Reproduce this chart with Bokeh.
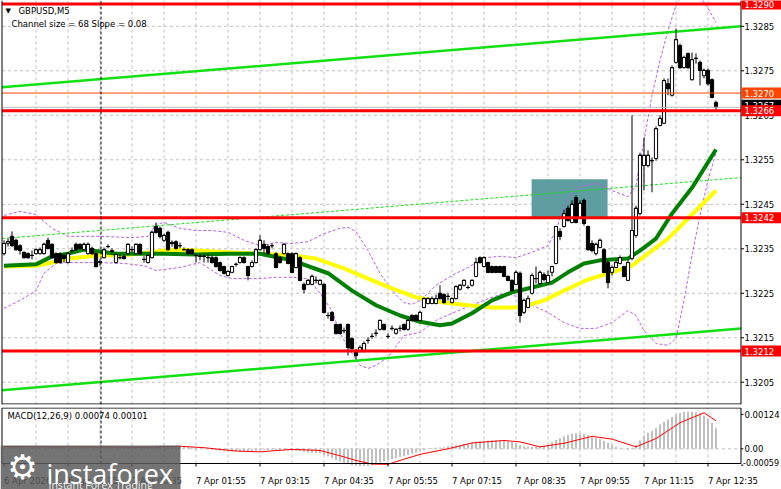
import numpy as np
from bokeh.plotting import figure
from bokeh.layouts import column
from bokeh.models import Range1d
from bokeh.core.properties import value
from bokeh.embed import file_html
from bokeh.resources import INLINE

FONT = "DejaVu Sans"

# ---------------- data ----------------
symbol = "GBPUSD,M5"
channel_text = "Channel size = 68 Slope = 0.08"
macd_text = "MACD(12,26,9) 0.00074 0.00101"

time_labels = ["6 Apr 2026", "6 Apr 23:15", "7 Apr 00:35", "7 Apr 01:55", "7 Apr 03:15",
               "7 Apr 04:35", "7 Apr 05:55", "7 Apr 07:15", "7 Apr 08:35", "7 Apr 09:55",
               "7 Apr 11:15", "7 Apr 12:35"]
time_label_bars = [0, 16, 32, 48, 64, 80, 96, 112, 128, 144, 160, 176]
day_start_bar = 24.25

open_ = [1.32339, 1.32362, 1.32378, 1.32369, 1.32357, 1.32342, 1.32339, 1.32335, 1.32339, 1.32339,
         1.32339, 1.32369, 1.32360, 1.32339, 1.32339, 1.32335, 1.32319, 1.32346, 1.32360, 1.32360,
         1.32348, 1.32339, 1.32351, 1.32339, 1.32319, 1.32330, 1.32355, 1.32346, 1.32319, 1.32330,
         1.32333, 1.32339, 1.32348, 1.32339, 1.32360, 1.32326, 1.32319, 1.32330, 1.32400, 1.32396,
         1.32369, 1.32387, 1.32364, 1.32366, 1.32357, 1.32348, 1.32348, 1.32348, 1.32335, 1.32333,
         1.32333, 1.32330, 1.32330, 1.32330, 1.32319, 1.32310, 1.32290, 1.32297, 1.32315, 1.32319,
         1.32330, 1.32310, 1.32310, 1.32319, 1.32348, 1.32360, 1.32355, 1.32357, 1.32339, 1.32330,
         1.32339, 1.32339, 1.32339, 1.32308, 1.32330, 1.32270, 1.32270, 1.32270, 1.32279, 1.32270,
         1.32270, 1.32200, 1.32207, 1.32180, 1.32180, 1.32166, 1.32180, 1.32148, 1.32119, 1.32119,
         1.32119, 1.32144, 1.32153, 1.32160, 1.32169, 1.32180, 1.32153, 1.32171, 1.32160, 1.32171,
         1.32180, 1.32169, 1.32200, 1.32200, 1.32189, 1.32218, 1.32227, 1.32227, 1.32227, 1.32250,
         1.32247, 1.32243, 1.32229, 1.32238, 1.32259, 1.32268, 1.32263, 1.32268, 1.32288, 1.32330,
         1.32310, 1.32319, 1.32310, 1.32310, 1.32310, 1.32310, 1.32288, 1.32279, 1.32270, 1.32295,
         1.32207, 1.32218, 1.32250, 1.32283, 1.32272, 1.32292, 1.32274, 1.32297, 1.32317, 1.32389,
         1.32400, 1.32441, 1.32409, 1.32465, 1.32420, 1.32459, 1.32400, 1.32362, 1.32339, 1.32353,
         1.32348, 1.32319, 1.32297, 1.32308, 1.32317, 1.32310, 1.32279, 1.32328, 1.32380, 1.32429,
         1.32537, 1.32537, 1.32548, 1.32553, 1.32627, 1.32632, 1.32721, 1.32695, 1.32769, 1.32807,
         1.32757, 1.32789, 1.32730, 1.32778, 1.32769, 1.32739, 1.32751, 1.32730, 1.32679]

close = [1.32362, 1.32366, 1.32357, 1.32348, 1.32346, 1.32330, 1.32330, 1.32335, 1.32348, 1.32348,
         1.32360, 1.32351, 1.32330, 1.32319, 1.32319, 1.32328, 1.32339, 1.32346, 1.32348, 1.32351,
         1.32360, 1.32360, 1.32339, 1.32310, 1.32321, 1.32348, 1.32355, 1.32344, 1.32337, 1.32330,
         1.32328, 1.32360, 1.32348, 1.32360, 1.32339, 1.32326, 1.32335, 1.32387, 1.32387, 1.32378,
         1.32380, 1.32348, 1.32362, 1.32351, 1.32357, 1.32348, 1.32339, 1.32339, 1.32335, 1.32333,
         1.32333, 1.32330, 1.32319, 1.32310, 1.32301, 1.32295, 1.32299, 1.32310, 1.32315, 1.32330,
         1.32319, 1.32290, 1.32319, 1.32348, 1.32369, 1.32351, 1.32339, 1.32357, 1.32308, 1.32319,
         1.32360, 1.32317, 1.32297, 1.32339, 1.32279, 1.32259, 1.32279, 1.32288, 1.32279, 1.32279,
         1.32207, 1.32200, 1.32189, 1.32160, 1.32160, 1.32166, 1.32128, 1.32126, 1.32110, 1.32128,
         1.32137, 1.32144, 1.32153, 1.32160, 1.32189, 1.32169, 1.32153, 1.32171, 1.32169, 1.32171,
         1.32169, 1.32189, 1.32189, 1.32189, 1.32207, 1.32238, 1.32238, 1.32238, 1.32238, 1.32238,
         1.32229, 1.32243, 1.32238, 1.32265, 1.32268, 1.32279, 1.32263, 1.32279, 1.32319, 1.32319,
         1.32330, 1.32297, 1.32297, 1.32297, 1.32297, 1.32288, 1.32279, 1.32256, 1.32297, 1.32200,
         1.32234, 1.32238, 1.32290, 1.32283, 1.32297, 1.32281, 1.32290, 1.32310, 1.32400, 1.32378,
         1.32429, 1.32414, 1.32450, 1.32409, 1.32452, 1.32407, 1.32348, 1.32346, 1.32360, 1.32369,
         1.32297, 1.32274, 1.32308, 1.32319, 1.32330, 1.32288, 1.32319, 1.32391, 1.32441, 1.32560,
         1.32560, 1.32560, 1.32548, 1.32620, 1.32643, 1.32728, 1.32710, 1.32757, 1.32820, 1.32757,
         1.32780, 1.32757, 1.32775, 1.32778, 1.32751, 1.32751, 1.32721, 1.32690, 1.32668]

high = [1.32369, 1.32373, 1.32389, 1.32373, 1.32360, 1.32344, 1.32342, 1.32346, 1.32351, 1.32353,
        1.32364, 1.32375, 1.32362, 1.32342, 1.32342, 1.32339, 1.32342, 1.32353, 1.32364, 1.32362,
        1.32364, 1.32364, 1.32355, 1.32342, 1.32326, 1.32353, 1.32360, 1.32351, 1.32339, 1.32337,
        1.32337, 1.32362, 1.32355, 1.32362, 1.32362, 1.32333, 1.32337, 1.32391, 1.32409, 1.32400,
        1.32384, 1.32391, 1.32369, 1.32369, 1.32364, 1.32353, 1.32351, 1.32351, 1.32339, 1.32339,
        1.32339, 1.32339, 1.32335, 1.32333, 1.32321, 1.32312, 1.32301, 1.32312, 1.32319, 1.32333,
        1.32333, 1.32312, 1.32324, 1.32351, 1.32380, 1.32369, 1.32360, 1.32362, 1.32342, 1.32333,
        1.32362, 1.32342, 1.32342, 1.32342, 1.32333, 1.32274, 1.32281, 1.32292, 1.32288, 1.32281,
        1.32272, 1.32207, 1.32209, 1.32182, 1.32182, 1.32173, 1.32182, 1.32151, 1.32124, 1.32133,
        1.32142, 1.32151, 1.32160, 1.32169, 1.32191, 1.32182, 1.32160, 1.32178, 1.32171, 1.32178,
        1.32182, 1.32191, 1.32203, 1.32203, 1.32211, 1.32241, 1.32241, 1.32243, 1.32247, 1.32268,
        1.32250, 1.32250, 1.32241, 1.32268, 1.32270, 1.32281, 1.32268, 1.32281, 1.32330, 1.32333,
        1.32333, 1.32321, 1.32312, 1.32312, 1.32312, 1.32312, 1.32290, 1.32281, 1.32301, 1.32299,
        1.32238, 1.32245, 1.32295, 1.32310, 1.32301, 1.32297, 1.32301, 1.32312, 1.32402, 1.32396,
        1.32438, 1.32447, 1.32459, 1.32470, 1.32459, 1.32463, 1.32402, 1.32369, 1.32364, 1.32373,
        1.32351, 1.32324, 1.32312, 1.32324, 1.32335, 1.32312, 1.32324, 1.32650, 1.32447, 1.32566,
        1.32600, 1.32571, 1.32555, 1.32625, 1.32650, 1.32733, 1.32733, 1.32762, 1.32845, 1.32811,
        1.32784, 1.32791, 1.32791, 1.32789, 1.32773, 1.32755, 1.32755, 1.32733, 1.32683]

low = [1.32335, 1.32355, 1.32355, 1.32346, 1.32337, 1.32328, 1.32328, 1.32326, 1.32337, 1.32337,
       1.32337, 1.32348, 1.32328, 1.32317, 1.32317, 1.32319, 1.32317, 1.32339, 1.32346, 1.32348,
       1.32346, 1.32337, 1.32337, 1.32308, 1.32312, 1.32328, 1.32351, 1.32339, 1.32317, 1.32326,
       1.32326, 1.32337, 1.32342, 1.32337, 1.32337, 1.32319, 1.32317, 1.32328, 1.32384, 1.32373,
       1.32366, 1.32346, 1.32355, 1.32348, 1.32351, 1.32346, 1.32337, 1.32337, 1.32319, 1.32324,
       1.32319, 1.32319, 1.32317, 1.32308, 1.32299, 1.32292, 1.32288, 1.32295, 1.32310, 1.32317,
       1.32317, 1.32279, 1.32308, 1.32317, 1.32346, 1.32339, 1.32337, 1.32351, 1.32306, 1.32317,
       1.32337, 1.32315, 1.32295, 1.32306, 1.32277, 1.32250, 1.32268, 1.32268, 1.32272, 1.32268,
       1.32205, 1.32193, 1.32187, 1.32157, 1.32157, 1.32160, 1.32110, 1.32119, 1.32101, 1.32117,
       1.32117, 1.32137, 1.32148, 1.32153, 1.32166, 1.32166, 1.32148, 1.32166, 1.32157, 1.32164,
       1.32166, 1.32166, 1.32187, 1.32187, 1.32187, 1.32216, 1.32225, 1.32225, 1.32225, 1.32236,
       1.32227, 1.32234, 1.32227, 1.32236, 1.32256, 1.32265, 1.32259, 1.32265, 1.32286, 1.32317,
       1.32308, 1.32295, 1.32295, 1.32295, 1.32295, 1.32286, 1.32277, 1.32254, 1.32268, 1.32184,
       1.32203, 1.32216, 1.32247, 1.32272, 1.32270, 1.32277, 1.32272, 1.32288, 1.32315, 1.32369,
       1.32398, 1.32411, 1.32407, 1.32407, 1.32418, 1.32402, 1.32346, 1.32342, 1.32335, 1.32351,
       1.32295, 1.32261, 1.32290, 1.32306, 1.32315, 1.32286, 1.32277, 1.32324, 1.32375, 1.32425,
       1.32481, 1.32533, 1.32477, 1.32548, 1.32625, 1.32630, 1.32695, 1.32692, 1.32766, 1.32755,
       1.32755, 1.32755, 1.32728, 1.32766, 1.32717, 1.32733, 1.32717, 1.32688, 1.32661]

ma_green_bars = [0, 8, 12, 16, 20, 24, 28, 32, 40, 48, 56, 64, 72, 81, 87, 93, 99, 104, 109, 112,
                 117, 122, 127, 132, 137, 141, 145, 149, 156, 159, 163, 167, 172, 178]
ma_green = [1.32312, 1.32315, 1.32333, 1.32339, 1.32348, 1.32344, 1.32339, 1.32339, 1.32339, 1.32337,
            1.32339, 1.32339, 1.32324, 1.32295, 1.32256, 1.32223, 1.32200, 1.32186, 1.32178, 1.32182,
            1.32205, 1.32234, 1.32252, 1.32263, 1.32274, 1.32297, 1.32317, 1.32324, 1.32328, 1.32346,
            1.32373, 1.32429, 1.32487, 1.32573]

ma_yellow_bars = [0, 8, 12, 16, 24, 32, 40, 44, 48, 56, 64, 72, 78, 85, 91, 97, 103, 110, 116, 122,
                  128, 131, 135, 140, 146, 152, 157, 162, 166, 171, 178]
ma_yellow = [1.32310, 1.32312, 1.32319, 1.32328, 1.32335, 1.32337, 1.32346, 1.32348, 1.32346, 1.32342,
             1.32339, 1.32335, 1.32328, 1.32306, 1.32283, 1.32261, 1.32241, 1.32229, 1.32223, 1.32218,
             1.32218, 1.32223, 1.32234, 1.32256, 1.32281, 1.32297, 1.32312, 1.32346, 1.32373, 1.32418,
             1.32481]

bb_upper_bars = [0, 4, 8, 12, 16, 24, 32, 36, 38, 40, 44, 48, 52, 56, 60, 64, 68, 72, 76, 80,
                 84, 86, 88, 91, 94, 97, 100, 102, 104, 106, 108, 112, 116, 120, 124, 128, 132, 136, 138, 140,
                 142, 144, 148, 150, 152, 156, 158, 160, 162, 164, 166, 168, 170, 172, 174, 176, 178]
bb_upper = [1.32425, 1.32434, 1.32427, 1.32396, 1.32378, 1.32378, 1.32375, 1.32378, 1.32405, 1.32409,
            1.32396, 1.32391, 1.32391, 1.32387, 1.32369, 1.32357, 1.32364, 1.32362, 1.32366, 1.32384,
            1.32396, 1.32398, 1.32389, 1.32346, 1.32295, 1.32256, 1.32229, 1.32225, 1.32234, 1.32250,
            1.32268, 1.32290, 1.32308, 1.32330, 1.32333, 1.32330, 1.32342, 1.32357, 1.32391, 1.32447,
            1.32477, 1.32490, 1.32497, 1.32490, 1.32481, 1.32467, 1.32492, 1.32593, 1.32695, 1.32773,
            1.32841, 1.32897, 1.32926, 1.32935, 1.32919, 1.32890, 1.32859]

bb_lower_bars = [0, 4, 8, 10, 13, 16, 24, 30, 35, 38, 44, 49, 54, 57, 64, 68, 72, 76, 79, 82,
                 84, 87, 89, 91, 93, 96, 100, 104, 108, 112, 118, 122, 126, 129, 132, 136, 140, 144, 148, 152,
                 156, 158, 160, 163, 166, 168, 170, 172, 174, 176, 178]
bb_lower = [1.32216, 1.32234, 1.32256, 1.32295, 1.32317, 1.32319, 1.32319, 1.32317, 1.32312, 1.32301,
            1.32308, 1.32319, 1.32290, 1.32283, 1.32283, 1.32286, 1.32286, 1.32283, 1.32250, 1.32211,
            1.32160, 1.32115, 1.32088, 1.32081, 1.32088, 1.32106, 1.32155, 1.32162, 1.32189, 1.32205,
            1.32227, 1.32241, 1.32252, 1.32238, 1.32223, 1.32207, 1.32184, 1.32171, 1.32171, 1.32184,
            1.32211, 1.32200, 1.32166, 1.32137, 1.32133, 1.32148, 1.32234, 1.32335, 1.32425, 1.32504,
            1.32566]

channel_bars = [-0.5, 184.25]
channel_top = [1.32713, 1.32850]
channel_mid = [1.32373, 1.32510]
channel_bot = [1.32032, 1.32171]

level_prices = [1.3290, 1.3266, 1.3242, 1.3212]
level_texts = ["1.3290", "1.3266", "1.3242", "1.3212"]
target_price = 1.3270
target_text = "1.3270"

zone_bars = [131.9, 150.9]
zone_prices = [1.32420, 1.32506]

price_ticks = [1.3205, 1.3215, 1.3225, 1.3235, 1.3245, 1.3255, 1.3265, 1.3275, 1.3285]
price_tick_labels = ["1.3205", "1.3215", "1.3225", "1.3235", "1.3245", "1.3255", "1.3265", "1.3275", "1.3285"]

macd_main = [0.00006, 0.00007, 0.00008, 0.00008, 0.00007, 0.00006, 0.00005, 0.00005, 0.00005, 0.00006,
             0.00006, 0.00007, 0.00007, 0.00006, 0.00005, 0.00004, 0.00003, 0.00003, 0.00004, 0.00005,
             0.00006, 0.00006, 0.00005, 0.00004, 0.00003, 0.00003, 0.00004, 0.00004, 0.00003, 0.00003,
             0.00004, 0.00005, 0.00005, 0.00006, 0.00006, 0.00005, 0.00005, 0.00007, 0.00010, 0.00012,
             0.00013, 0.00012, 0.00012, 0.00011, 0.00010, 0.00009, 0.00007, 0.00005, 0.00003, 0.00001,
             -0.00001, -0.00002, -0.00004, -0.00005, -0.00007, -0.00009, -0.00010, -0.00010, -0.00010, -0.00009,
             -0.00009, -0.00010, -0.00009, -0.00007, -0.00005, -0.00004, -0.00004, -0.00003, -0.00005, -0.00006,
             -0.00005, -0.00006, -0.00006, -0.00007, -0.00009, -0.00011, -0.00013, -0.00014, -0.00015, -0.00016,
             -0.00022, -0.00028, -0.00034, -0.00040, -0.00046, -0.00050, -0.00055, -0.00058, -0.00061, -0.00063,
             -0.00063, -0.00061, -0.00058, -0.00054, -0.00049, -0.00045, -0.00041, -0.00037, -0.00033, -0.00029,
             -0.00026, -0.00022, -0.00018, -0.00014, -0.00009, -0.00004, 0.00000, 0.00002, 0.00004, 0.00005,
             0.00006, 0.00008, 0.00010, 0.00012, 0.00015, 0.00018, 0.00020, 0.00023, 0.00026, 0.00028,
             0.00029, 0.00030, 0.00031, 0.00031, 0.00031, 0.00030, 0.00028, 0.00025, 0.00021, 0.00014,
             0.00009, 0.00007, 0.00007, 0.00008, 0.00009, 0.00011, 0.00014, 0.00024, 0.00032, 0.00038,
             0.00045, 0.00050, 0.00054, 0.00056, 0.00056, 0.00054, 0.00050, 0.00045, 0.00040, 0.00035,
             0.00029, 0.00022, 0.00014, 0.00007, 0.00002, -0.00002, -0.00003, 0.00004, 0.00014, 0.00030,
             0.00048, 0.00058, 0.00064, 0.00075, 0.00088, 0.00098, 0.00106, 0.00115, 0.00124, 0.00129,
             0.00133, 0.00134, 0.00134, 0.00132, 0.00128, 0.00120, 0.00108, 0.00093, 0.00074]

signal_bars = [0, 20, 36, 44, 50, 58, 64, 72, 79, 84, 88, 92, 96, 99, 104, 111, 117, 125, 129, 134,
               140, 147, 152, 158, 163, 169, 175, 178]
signal = [0.00008, 0.00007, 0.00006, 0.00009, 0.00004, -0.00008, -0.00011, -0.00002, -0.00006, -0.00025,
          -0.00042, -0.00055, -0.00056, -0.00042, -0.00020, 0.00000, 0.00021, 0.00030, 0.00025, 0.00007,
          0.00020, 0.00045, 0.00035, 0.00007, 0.00037, 0.00094, 0.00130, 0.00101]

macd_ticks = [0.00124, 0.0, -0.00059]
macd_tick_labels = ["0.00124", "0.00", "-0.00059"]

# ---------------- layout helpers (page pixels of the 781x489 chart) ----------------
XS, XE = -0.875, 194.375        # whole canvas width, 4 px per bar
X0, X1 = -0.5, 184.25           # left border / price-axis line
P_TOP, P_BOT = 1.32908, 1.32000 # main panel, 404 px
PPX = (P_TOP - P_BOT) / 404.0
M_TOP, M_BOX_BOT = 0.00149, -0.00053   # macd box, 56 px
MPX = (M_TOP - M_BOX_BOT) / 56.0
M_BOT = M_TOP - 82.0 * MPX

def py(y):
    return P_TOP - y * PPX

def my(y):
    return M_TOP - (y - 407.0) * MPX

def bx(x):
    return (x - 3.5) / 4.0

GRID = "#c0c0c0"
LBL_X = bx(744)
TAG_L = bx(741)
x_rng = Range1d(XS, XE)

def ptext(fig, x, y, txt, size="8.5px", color="black", align="left", font=FONT, baseline="middle", alpha=1.0):
    fig.text(x=[x], y=[y], text=[txt], text_font=value(font), text_font_size=size,
             text_color=color, text_align=align, text_baseline=baseline, text_alpha=alpha)

# ---------------- main price panel ----------------
p1 = figure(width=781, height=407, x_range=x_rng, y_range=Range1d(P_BOT, P_TOP),
            min_border_left=0, min_border_right=0, min_border_top=0, min_border_bottom=3,
            x_axis_location=None, y_axis_location=None,
            output_backend="svg", toolbar_location=None,
            background_fill_color="white", border_fill_color="white", outline_line_color=None)
p1.grid.visible = False

vgrid = [b for b in range(8, 184, 8)]
p1.segment(x0=vgrid, y0=[P_BOT] * len(vgrid), x1=vgrid, y1=[P_TOP] * len(vgrid),
           line_color=GRID, line_dash="3 3", line_width=1)
p1.segment(x0=[X0] * len(price_ticks), y0=price_ticks, x1=[X1] * len(price_ticks), y1=price_ticks,
           line_color=GRID, line_dash="3 3", line_width=1)

p1.quad(left=[zone_bars[0]], right=[zone_bars[1]], bottom=[zone_prices[0]], top=[zone_prices[1]],
        fill_color="#5f9ea0", line_color=None)

p1.line(bb_upper_bars, bb_upper, line_color="#b85ee0", line_dash="3 2", line_width=1)
p1.line(bb_lower_bars, bb_lower, line_color="#b85ee0", line_dash="3 2", line_width=1)

p1.line(channel_bars, channel_top, line_color="#11e011", line_width=2.5)
p1.line(channel_bars, channel_bot, line_color="#11e011", line_width=2.5)
p1.line(channel_bars, channel_mid, line_color="#11e011", line_width=1, line_dash="3 2")

p1.line(ma_yellow_bars, ma_yellow, line_color="#ffff00", line_width=4)
p1.line(ma_green_bars, ma_green, line_color="#008000", line_width=4)

n = len(close)
idx = np.arange(n)
o = np.array(open_)
c = np.array(close)
body_top = np.maximum(o, c)
body_bot = np.minimum(o, c)
fills = ["white" if cc >= oo else "black" for oo, cc in zip(open_, close)]
p1.segment(x0=idx, y0=low, x1=idx, y1=high, line_color="black", line_width=1)
p1.vbar(x=idx, width=0.8, top=body_top, bottom=body_bot, fill_color=fills, line_color="black", line_width=1)
p1.segment(x0=idx - 0.4, y0=c, x1=idx + 0.4, y1=c, line_color="black", line_width=1)

# horizontal levels
p1.segment(x0=[X0], y0=[close[-1]], x1=[X1], y1=[close[-1]], line_color="#c0c0c0", line_width=1)
p1.segment(x0=[X0], y0=[target_price], x1=[X1], y1=[target_price], line_color="#ff4500", line_width=1)
p1.segment(x0=[X0] * len(level_prices), y0=level_prices, x1=[X1] * len(level_prices), y1=level_prices,
           line_color="#ff0000", line_width=3)

# day separator and frame lines
p1.segment(x0=[day_start_bar], y0=[P_BOT], x1=[day_start_bar], y1=[P_TOP],
           line_color="black", line_dash="3 2", line_width=1)
p1.segment(x0=[X0, X1, X0], y0=[P_BOT, P_BOT, py(403.5)], x1=[X0, X1, X1], y1=[P_TOP, P_TOP, py(403.5)],
           line_color="black", line_width=1)

# price scale
p1.segment(x0=[X1] * len(price_ticks), y0=price_ticks, x1=[X1 + 0.75] * len(price_ticks), y1=price_ticks,
           line_color="black", line_width=1)
p1.text(x=[LBL_X] * len(price_ticks), y=price_ticks, text=price_tick_labels,
        text_font=value(FONT), text_font_size="8.5px", text_color="black",
        text_align="left", text_baseline="middle")

def tag(y, txt, bg):
    p1.quad(left=[TAG_L], right=[XE], bottom=[y - 5.5 * PPX], top=[y + 5.5 * PPX],
            fill_color=bg, line_color=None)
    ptext(p1, LBL_X, y, txt, color="white")

tag(close[-1] + 2 * PPX, "%.4f" % close[-1], "black")
tag(target_price, target_text, "#ff4500")
for lv, lt in zip(level_prices, level_texts):
    tag(lv, lt, "#ff0000")

# titles
ptext(p1, bx(5), py(10), "\u25BC", size="7px")
ptext(p1, bx(18), py(10), symbol)
ptext(p1, bx(11), py(23), channel_text)

# ---------------- MACD panel + time labels ----------------
p2 = figure(width=781, height=82, x_range=x_rng, y_range=Range1d(M_BOT, M_TOP),
            min_border_left=0, min_border_right=0, min_border_top=0, min_border_bottom=0,
            x_axis_location=None, y_axis_location=None,
            output_backend="svg", toolbar_location=None,
            background_fill_color="white", border_fill_color="white", outline_line_color=None)
p2.grid.visible = False

p2.segment(x0=vgrid, y0=[M_BOX_BOT] * len(vgrid), x1=vgrid, y1=[M_TOP] * len(vgrid),
           line_color=GRID, line_dash="3 3", line_width=1)
p2.segment(x0=[X0], y0=[0.0], x1=[X1], y1=[0.0], line_color=GRID, line_dash="3 3", line_width=1)

p2.vbar(x=idx, width=0.5, top=macd_main, bottom=0.0, fill_color="#c0c0c0", line_color=None)
p2.line(signal_bars, signal, line_color="#ff0000", line_width=1)

p2.segment(x0=[day_start_bar], y0=[M_BOX_BOT], x1=[day_start_bar], y1=[M_TOP],
           line_color="black", line_dash="3 2", line_width=1)
box_top = M_TOP - 0.5 * MPX
p2.segment(x0=[X0, X1, X0, X0], y0=[M_BOX_BOT, M_BOX_BOT, box_top, M_BOX_BOT],
           x1=[X0, X1, X1, X1], y1=[box_top, box_top, box_top, M_BOX_BOT],
           line_color="black", line_width=1)

# MACD scale
p2.segment(x0=[X1] * len(macd_ticks), y0=macd_ticks, x1=[X1 + 0.6] * len(macd_ticks), y1=macd_ticks,
           line_color="black", line_width=1)
p2.text(x=[LBL_X] * 2, y=macd_ticks[:2], text=macd_tick_labels[:2],
        text_font=value(FONT), text_font_size="8.5px", text_color="black",
        text_align="left", text_baseline="middle")
p2.text(x=[bx(742.5)], y=macd_ticks[2:], text=macd_tick_labels[2:], y_offset=-3,
        text_font=value(FONT), text_font_size="8px", text_color="black",
        text_align="left", text_baseline="middle")

ptext(p2, bx(7), my(415), macd_text)

# time scale
p2.segment(x0=time_label_bars, y0=[M_BOX_BOT] * len(time_label_bars),
           x1=time_label_bars, y1=[M_BOX_BOT - 3 * MPX] * len(time_label_bars),
           line_color="black", line_width=1)
p2.text(x=time_label_bars, y=[my(480)] * len(time_label_bars), text=time_labels,
        text_font=value(FONT), text_font_size="8.5px", text_color="black",
        text_align="left", text_baseline="middle")

# watermark
p2.quad(left=[XS], right=[bx(180)], bottom=[M_BOT], top=[my(445)],
        fill_color="#5c5c5c", fill_alpha=0.85, line_color=None)
ptext(p2, bx(22), my(466), "\u2699", size="34px", color="white", align="center")
ptext(p2, bx(46), my(473), "instaforex", size="27px", color="white", font="Open Sans",
      baseline="alphabetic")
ptext(p2, bx(48), my(484), "Instant Forex Trading", size="10.5px", color="white", font="Open Sans",
      baseline="alphabetic", alpha=0.9)

layout = column(p1, p2, spacing=0)
open("out.html", "w").write(file_html(layout, INLINE))
